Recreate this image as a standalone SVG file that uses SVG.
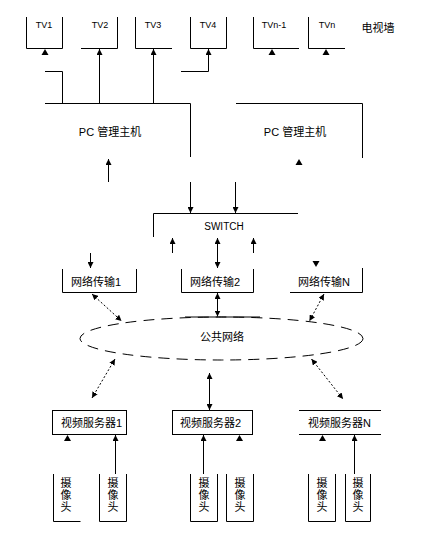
<svg xmlns="http://www.w3.org/2000/svg" xmlns:xlink="http://www.w3.org/1999/xlink" width="442" height="549" viewBox="0 0 442 549">
<defs>
<style>
.ln{fill:none;stroke:#000;stroke-width:1}
.dot{fill:none;stroke:#000;stroke-width:1;stroke-dasharray:2 2}
.t{font-family:"Liberation Sans","Noto Sans CJK SC",sans-serif;font-size:11px;fill:#000}
.tv{font-family:"Liberation Sans","Noto Sans CJK SC",sans-serif;font-size:9px;fill:#000;text-anchor:middle}
.c{text-anchor:middle}
</style>
<marker id="a" viewBox="0 0 6 6" refX="6" refY="3" markerWidth="6" markerHeight="6" markerUnits="userSpaceOnUse" orient="auto-start-reverse"><path d="M0,0 L6,3 L0,6 Z" fill="#000"/></marker>
<path id="up" d="M0,0 L-3.5,6 L3.5,6 Z" fill="#000"/>
<path id="dn" d="M0,0 L-3.5,-6 L3.5,-6 Z" fill="#000"/>
</defs>
<rect width="442" height="549" fill="#fff"/>

<g id="tv1"><path class="ln" d="M26.5,17 V48.5 H62.5 V17"/><text class="tv" x="44" y="28">TV1</text></g>
<g id="tv2"><path class="ln" d="M81,48.5 H117.5 V17"/><text class="tv" x="100" y="28">TV2</text></g>
<g id="tv3"><path class="ln" d="M135.5,17 V48.5 H172"/><text class="tv" x="153" y="28">TV3</text></g>
<g id="tv4"><path class="ln" d="M190.5,17 V48.5 H226.5 V17"/><text class="tv" x="208" y="28">TV4</text></g>
<g id="tvn1"><path class="ln" d="M253.5,17 V48.5 H299"/><text class="tv" x="274" y="28">TVn-1</text></g>
<g id="tvn"><path class="ln" d="M308.5,17 V48.5 H345"/><text class="tv" x="327" y="28">TVn</text></g>
<g id="wall"><text class="t c" x="378" y="32">电视墙</text></g>

<g id="pc1"><path class="ln" d="M45,103.5 H190.5 V157"/><text class="t c" x="110" y="136">PC 管理主机</text></g>
<g id="pc2"><path class="ln" d="M236,103.5 H362.5 V158"/><text class="t c" x="295" y="136">PC 管理主机</text></g>
<g id="switch"><path class="ln" d="M153.5,237 V213.5 H298"/><text class="t c" x="224" y="230" style="font-size:10px">SWITCH</text></g>

<g id="net1"><path class="ln" d="M62.5,269 V292.5 H136.5 V269"/><text class="t" x="71" y="286">网络传输1</text></g>
<g id="net2"><path class="ln" d="M181.5,269 V292.5 H253.5 V269"/><text class="t" x="190" y="286">网络传输2</text></g>
<g id="netn"><path class="ln" d="M290,292.5 H362.5 V268"/><text class="t" x="298" y="286">网络传输N</text></g>

<g id="public"><ellipse cx="221.5" cy="338.5" rx="141.5" ry="21.5" fill="none" stroke="#000" stroke-dasharray="11 7"/><path class="ln" d="M185,317 H260"/><text class="t c" x="222" y="341">公共网络</text></g>

<g id="srv1"><rect class="ln" x="52.5" y="410.5" width="74" height="24"/><text class="t" x="61" y="427">视频服务器1</text></g>
<g id="srv2"><rect class="ln" x="172.5" y="410.5" width="80" height="24"/><text class="t" x="180" y="427">视频服务器2</text></g>
<g id="srvn"><path class="ln" d="M299,410.5 H381 M299,434.5 H381"/><text class="t" x="308" y="427">视频服务器N</text></g>

<g id="cam1a"><path class="ln" d="M53.5,474 V521.5 H80.5"/><text class="t c" x="66"><tspan x="66" y="487">摄</tspan><tspan x="66" y="499">像</tspan><tspan x="66" y="511">头</tspan></text></g>
<g id="cam1b"><path class="ln" d="M99.5,474 V521.5 H126.5 V474"/><text class="t c"><tspan x="113" y="487">摄</tspan><tspan x="113" y="499">像</tspan><tspan x="113" y="511">头</tspan></text></g>
<g id="cam2a"><path class="ln" d="M190.5,474 V521.5 H217.5 V474"/><text class="t c"><tspan x="204" y="487">摄</tspan><tspan x="204" y="499">像</tspan><tspan x="204" y="511">头</tspan></text></g>
<g id="cam2b"><path class="ln" d="M226.5,474 V521.5 H253.5 V474"/><text class="t c"><tspan x="240" y="487">摄</tspan><tspan x="240" y="499">像</tspan><tspan x="240" y="511">头</tspan></text></g>
<g id="camna"><path class="ln" d="M308.5,474 V521.5 H335.5 V474"/><text class="t c"><tspan x="322" y="487">摄</tspan><tspan x="322" y="499">像</tspan><tspan x="322" y="511">头</tspan></text></g>
<g id="camnb"><path class="ln" d="M345.5,474 V521.5 H370.5 V474"/><text class="t c"><tspan x="358" y="487">摄</tspan><tspan x="358" y="499">像</tspan><tspan x="358" y="511">头</tspan></text></g>

<g id="connectors">
<use xlink:href="#up" x="45" y="49"/>
<use xlink:href="#up" x="272" y="49"/>
<use xlink:href="#up" x="326" y="49"/>
<path class="ln" d="M99.5,103.5 V49" marker-end="url(#a)"/>
<path class="ln" d="M153.5,103.5 V49" marker-end="url(#a)"/>
<path class="ln" d="M181,71.5 H208.5 V49" marker-end="url(#a)"/>
<path class="ln" d="M45,71.5 H62.5 V103.5"/>
<path class="ln" d="M108.5,182 V159" marker-end="url(#a)"/>
<use xlink:href="#up" x="299" y="159"/>
<path class="ln" d="M190.5,182 V213" marker-end="url(#a)"/>
<path class="ln" d="M235.5,182 V213" marker-end="url(#a)"/>
<path class="ln" d="M172.5,253 V238" marker-end="url(#a)"/>
<path class="ln" d="M253.5,253 V238" marker-end="url(#a)"/>
<path class="ln" d="M217.5,238 V268" marker-start="url(#a)" marker-end="url(#a)"/>
<path class="ln" d="M90.5,253 V268" marker-end="url(#a)"/>
<use xlink:href="#dn" x="316" y="267"/>
<path class="ln" d="M217.5,293 V316.5" marker-start="url(#a)" marker-end="url(#a)"/>
<path class="dot" d="M92,294 L121.5,321" marker-start="url(#a)" marker-end="url(#a)"/>
<path class="dot" d="M324,294 L309.5,321" marker-start="url(#a)" marker-end="url(#a)"/>
<path class="dot" d="M115,359 L92,398" marker-start="url(#a)" marker-end="url(#a)"/>
<path class="dot" d="M311.5,359 L343,399" marker-start="url(#a)" marker-end="url(#a)"/>
<path class="ln" d="M209.5,373 V410" marker-start="url(#a)" marker-end="url(#a)"/>
<use xlink:href="#up" x="67.5" y="435"/>
<path class="ln" d="M115.5,474 V435" marker-end="url(#a)"/>
<path class="ln" d="M203.5,474 V435" marker-end="url(#a)"/>
<use xlink:href="#up" x="239.5" y="435"/>
<use xlink:href="#up" x="322.5" y="435"/>
<path class="ln" d="M354.5,474 V435" marker-end="url(#a)"/>
</g>
</svg>
